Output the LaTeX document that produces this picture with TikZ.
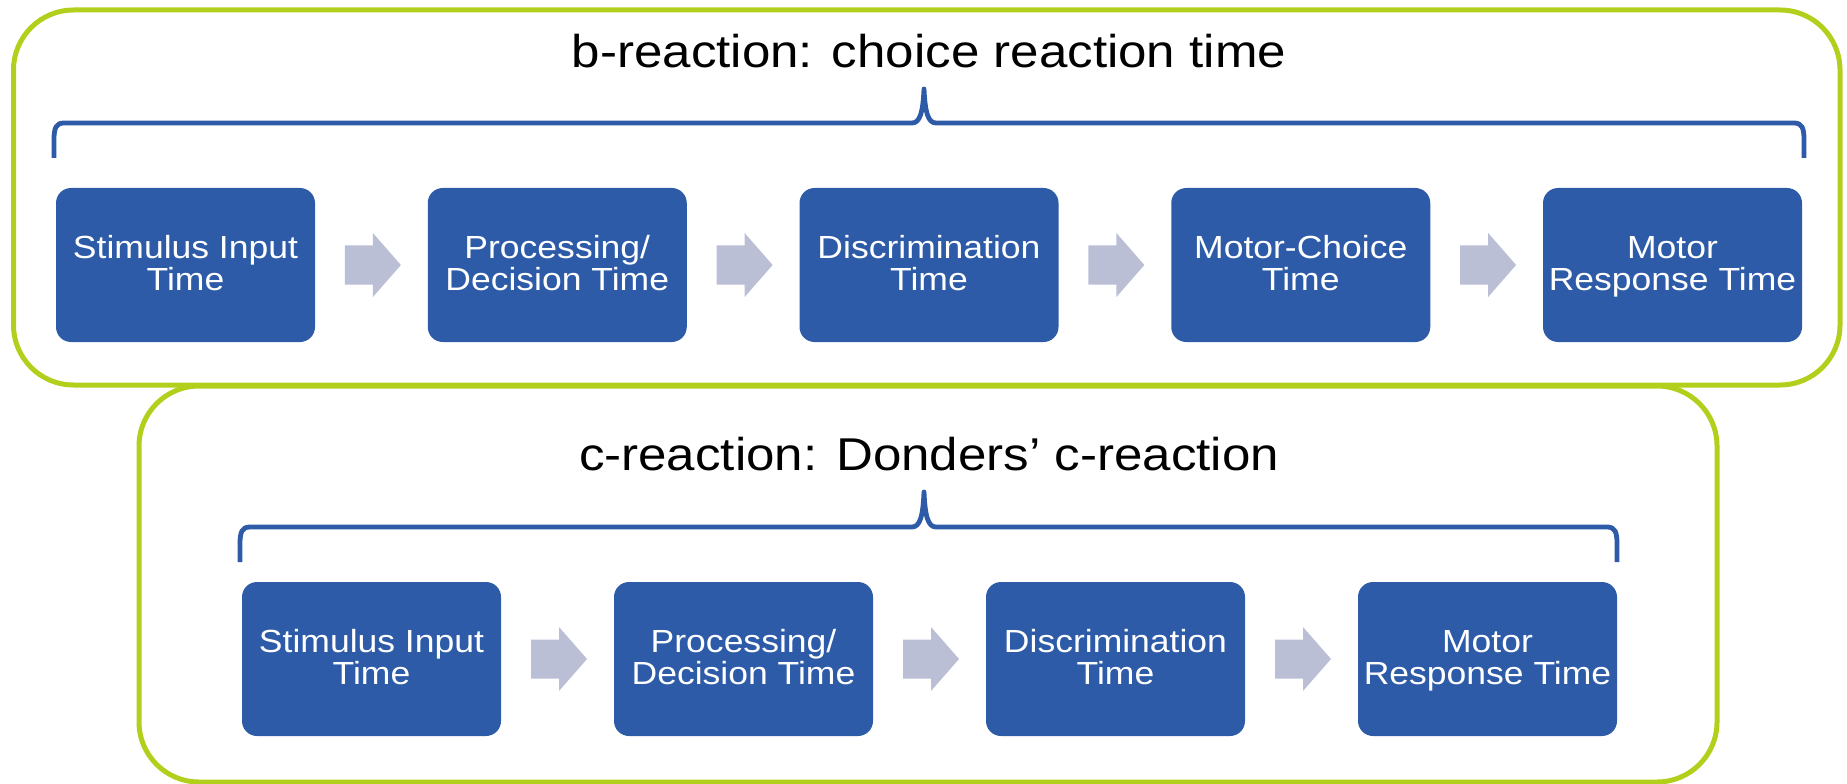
\documentclass[tikz,border=0pt]{standalone}
\usepackage{fontspec}
\setmainfont{Liberation Sans}[FakeStretch=1.11]
\usetikzlibrary{calc}
\definecolor{stepblue}{HTML}{2D5BA8}
\definecolor{framegreen}{HTML}{B2CF1C}
\definecolor{arrowgray}{HTML}{BABFD6}
% fixed line heights so every two-line label sits at the same place
\newcommand{\tophang}{\rule{0pt}{19.5pt}}
\newcommand{\lowhang}{\rule[-6pt]{0pt}{6pt}}
\newcommand{\twolines}[2]{\tophang#1\\#2\lowhang}
\tikzset{
  stagebox/.style={fill=stepblue, draw=none, rounded corners=11.25pt,
    minimum width=194.25pt, minimum height=115.5pt, text=white,
    align=center, inner sep=0pt, font=\fontsize{24}{24}\selectfont},
  groupframe/.style={draw=framegreen, line width=3.75pt, rounded corners=45pt},
  spanbrace/.style={draw=stepblue, line width=3.6pt, line join=round},
  heading/.style={anchor=base, inner sep=0pt, font=\fontsize{34.5}{36}\selectfont},
}
% draws a block arrow centred on coordinate #1
\newcommand{\blockarrow}[1]{%
  \fill[arrowgray, shift={(#1)}] (-26.5,-19.5) -- (1.5,-19.5) -- (1.5,-32)
    -- (29.5,0) -- (1.5,32) -- (1.5,19.5) -- (-26.5,19.5) -- cycle;}
\begin{document}
\begin{tikzpicture}[x=0.75pt, y=-0.75pt]
\useasboundingbox (0,0) rectangle (1847,784);

% group frames
\draw[groupframe] (139,386) rectangle (1717,782);
\draw[groupframe] (13.5,10) rectangle (1840,385);

% choice reaction row
\node[heading] (tb) at (929,68) {b-reaction: choice reaction time};
\node[stagebox] (b1) at (185.5,265)  {\twolines{Stimulus Input}{Time}};
\node[stagebox] (b2) at (557.25,265) {\twolines{Processing/}{Decision Time}};
\node[stagebox] (b3) at (929,265)    {\twolines{Discrimination}{Time}};
\node[stagebox] (b4) at (1300.75,265){\twolines{Motor-Choice}{Time}};
\node[stagebox] (b5) at (1672.5,265) {\twolines{Motor}{Response Time}};

\foreach \a/\b in {b1/b2,b2/b3,b3/b4,b4/b5}{
  \coordinate (m\a) at ($(\a.east)!0.5!(\b.west)$);
  \blockarrow{m\a}
}

\draw[spanbrace] (54,158) -- (54,140) .. controls (54,128) and (56,123) .. (64,123)
  -- (912,123) .. controls (920,123) and (923,112) .. (924,89)
  .. controls (925,112) and (928,123) .. (936,123)
  -- (1794,123) .. controls (1802,123) and (1804,128) .. (1804,140) -- (1804,158);

% Donders c-reaction row
\node[heading] (tc) at (929,470) {c-reaction: Donders’ c-reaction};
\node[stagebox] (c1) at (371.5,659)  {\twolines{Stimulus Input}{Time}};
\node[stagebox] (c2) at (743.5,659)  {\twolines{Processing/}{Decision Time}};
\node[stagebox] (c3) at (1115.5,659) {\twolines{Discrimination}{Time}};
\node[stagebox] (c4) at (1487.5,659) {\twolines{Motor}{Response Time}};

\foreach \a/\b in {c1/c2,c2/c3,c3/c4}{
  \coordinate (m\a) at ($(\a.east)!0.5!(\b.west)$);
  \blockarrow{m\a}
}

\draw[spanbrace] (240,562) -- (240,544) .. controls (240,532) and (242,527) .. (250,527)
  -- (912,527) .. controls (920,527) and (923,516) .. (924,492)
  .. controls (925,516) and (928,527) .. (936,527)
  -- (1607,527) .. controls (1615,527) and (1617,532) .. (1617,544) -- (1617,562);
\end{tikzpicture}
\end{document}
